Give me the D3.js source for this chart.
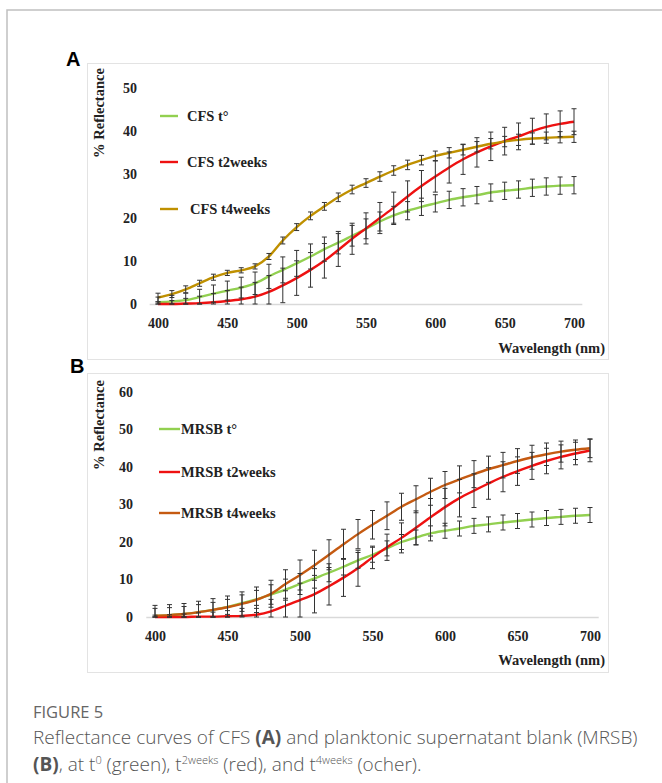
<!DOCTYPE html>
<html>
<head>
<meta charset="utf-8">
<script src="https://cdn.jsdelivr.net/npm/d3@7"></script>
<style>
  body { margin: 0; background: #fff; }
  svg { display: block; }
  .tick text { font-family: "Liberation Serif", serif; font-weight: bold; font-size: 14px; fill: #222; }
  .lbl { font-family: "Liberation Serif", serif; font-weight: bold; font-size: 14.5px; fill: #222; }
  .panel { font-family: "Liberation Sans", Arial, sans-serif; font-weight: bold; font-size: 20px; fill: #000; }
  .cap { font-family: "Open Sans", sans-serif; font-weight: 300; fill: #555; }
</style>
</head>
<body>
<svg id="fig" width="662" height="783"></svg>
<script>
// wavelengths (nm), one point every 10 nm
const wavelengths = [400,410,420,430,440,450,460,470,480,490,500,510,520,530,540,550,560,570,580,590,600,610,620,630,640,650,660,670,680,690,700];
const xTicks = [400,450,500,550,600,650,700];
const yTicksA = [0,10,20,30,40,50];
const yTicksB = [0,10,20,30,40,50,60];

// Panel A : CFS
const cfsT0  = [0.4,0.6,0.9,1.6,2.4,3.1,3.8,4.8,6.4,7.9,9.4,11.0,12.7,14.2,15.8,17.4,19.1,20.5,21.6,22.5,23.3,24.1,24.7,25.2,25.8,26.2,26.5,26.9,27.2,27.4,27.5];
const cfsT2  = [0.0,0.0,0.1,0.2,0.4,0.7,1.1,1.7,2.8,4.3,6.0,7.9,10.0,12.5,15.1,17.5,19.9,22.3,24.9,27.3,29.5,31.6,33.5,35.1,36.5,37.7,38.8,40.0,41.0,41.7,42.2];
const cfsT4  = [1.5,2.3,3.4,4.8,6.2,7.2,7.8,8.7,11.0,14.7,17.8,20.4,22.6,24.7,26.5,28.0,29.5,30.9,32.2,33.3,34.3,35.0,35.7,36.4,37.1,37.6,38.0,38.3,38.5,38.6,38.7];
const cfsErrT0 = [1.2,1.4,1.6,1.8,2.0,2.2,2.4,2.6,2.8,3.0,3.0,2.9,2.8,2.6,2.4,2.3,2.2,2.1,2.1,2.0,2.0,2.0,2.0,2.0,2.0,2.0,2.0,2.0,2.0,2.0,2.0];
const cfsErrT2 = [0.5,0.8,1.2,1.6,2.0,2.4,2.8,3.3,3.8,4.0,4.0,4.0,4.0,3.8,3.6,3.6,3.6,3.6,3.6,3.6,3.6,3.6,3.5,3.4,3.3,3.2,3.1,3.0,3.0,3.0,3.0];
const cfsErrT4 = [1.0,0.8,0.8,0.7,0.7,0.6,0.6,0.6,0.7,0.8,0.8,0.9,0.9,1.0,1.0,1.0,1.1,1.1,1.1,1.1,1.1,1.2,1.2,1.2,1.2,1.2,1.3,1.3,1.3,1.3,1.3];

// Panel B : MRSB
const mrsbT0 = [0.3,0.5,0.8,1.3,1.9,2.7,3.7,4.7,6.0,7.3,8.8,10.3,11.8,13.4,15.1,16.6,18.3,20.0,21.2,22.3,23.0,23.6,24.3,24.7,25.2,25.6,26.0,26.4,26.7,27.0,27.2];
const mrsbT2 = [0.0,0.0,0.0,0.1,0.1,0.2,0.3,0.6,1.5,3.0,4.5,6.1,8.2,10.5,13.0,15.9,18.6,21.1,23.8,26.6,29.3,31.7,33.7,35.6,37.4,38.9,40.3,41.6,42.7,43.6,44.4];
const mrsbT4 = [0.3,0.5,0.8,1.3,1.9,2.6,3.5,4.6,6.2,8.8,11.2,13.8,16.6,19.4,22.1,24.6,27.0,29.4,31.4,33.4,35.2,36.7,38.1,39.4,40.5,41.6,42.6,43.4,44.1,44.6,45.0];
const mrsbErrT0 = [2.0,2.0,2.0,2.0,2.0,2.0,2.2,2.4,2.6,2.8,2.8,2.6,2.4,2.2,2.1,2.0,2.0,2.0,2.0,2.0,2.0,2.0,2.0,2.0,2.0,2.0,2.0,2.0,2.0,2.0,2.0];
const mrsbErrT2 = [0.5,0.6,0.8,1.0,1.2,1.5,2.0,2.5,3.2,4.0,4.5,5.0,5.0,5.0,4.8,3.0,3.5,4.0,4.5,5.0,5.0,5.0,4.5,4.2,4.0,3.8,3.6,3.4,3.2,3.0,3.0];
const mrsbErrT4 = [2.8,2.8,2.8,2.9,3.0,3.0,3.2,3.4,3.6,3.8,4.0,4.0,4.0,4.0,3.9,3.8,3.7,3.6,3.6,3.6,3.6,3.6,3.6,3.5,3.4,3.3,3.2,3.0,2.8,2.6,2.5];

const green = "#92d050", red = "#ee1111", ocher = "#bf9000", orange = "#c55a11";

const svg = d3.select("#fig");

// outer figure frame (top and left rules)
svg.append("path").attr("d", "M7,783 V10 H662").attr("fill", "none").attr("stroke", "#c0c0c0").attr("stroke-width", 1.5);

/*
  Draws one reflectance panel
*/
function drawPanel(opt) {
  const g = svg.append("g");

  // light chart frame
  g.append("rect")
    .attr("x", opt.box[0] + 0.5).attr("y", opt.box[1] + 0.5)
    .attr("width", opt.box[2]).attr("height", opt.box[3])
    .attr("fill", "none").attr("stroke", "#e3e3e3");

  svg.append("text").attr("class", "panel")
    .attr("x", opt.letter[0]).attr("y", opt.letter[1]).text(opt.name);

  const x = d3.scaleLinear().domain([400, 700]).range(opt.xr);
  const y = d3.scaleLinear().domain([0, opt.ymax]).range(opt.yr);

  // baseline
  g.append("line")
    .attr("x1", x(394)).attr("x2", x(706))
    .attr("y1", y(0) + 0.5).attr("y2", y(0) + 0.5)
    .attr("stroke", "#d9d9d9").attr("stroke-width", 1.5);

  // x axis
  g.append("g")
    .attr("transform", "translate(0," + opt.xAxisY + ")")
    .call(d3.axisBottom(x).tickValues(xTicks).tickSize(0).tickPadding(0))
    .call(a => a.select(".domain").remove());

  // y axis
  g.append("g")
    .attr("transform", "translate(" + opt.yAxisX + ",0)")
    .call(d3.axisLeft(y).tickValues(opt.yTicks).tickSize(0).tickPadding(0))
    .call(a => a.select(".domain").remove());

  g.append("text").attr("class", "lbl")
    .attr("text-anchor", "end")
    .attr("x", 605).attr("y", opt.wlY)
    .text("Wavelength (nm)");

  g.append("text").attr("class", "lbl")
    .attr("text-anchor", "middle")
    .attr("transform", "translate(" + opt.yTitle[0] + "," + opt.yTitle[1] + ") rotate(-90)")
    .attr("dy", "0.35em")
    .text("% Reflectance");

  const line = d3.line()
    .x((d, i) => x(wavelengths[i]))
    .y(d => y(d))
    .curve(d3.curveMonotoneX);

  opt.series.forEach(s => {
    g.append("path")
      .datum(s.values)
      .attr("fill", "none")
      .attr("stroke", s.color)
      .attr("stroke-width", 2.4)
      .attr("d", line);
  });

  // error bars on top of the lines
  opt.series.forEach(s => {
    const eb = g.append("g").attr("stroke", "#333").attr("stroke-width", 1);
    s.values.forEach((v, i) => {
      const cx = x(wavelengths[i]);
      const lo = y(Math.max(0, v - s.err[i])), hi = y(v + s.err[i]);
      eb.append("line").attr("x1", cx).attr("x2", cx).attr("y1", lo).attr("y2", hi);
      eb.append("line").attr("x1", cx - 2.5).attr("x2", cx + 2.5).attr("y1", lo).attr("y2", lo);
      eb.append("line").attr("x1", cx - 2.5).attr("x2", cx + 2.5).attr("y1", hi).attr("y2", hi);
    });
  });

  // legend
  opt.series.forEach((s, i) => {
    const ly = opt.legendY[i];
    g.append("line")
      .attr("x1", opt.legendX[0]).attr("x2", opt.legendX[1])
      .attr("y1", ly).attr("y2", ly)
      .attr("stroke", s.color).attr("stroke-width", 2.4);
    g.append("text").attr("class", "lbl")
      .attr("x", opt.legendX[2] + (s.shift || 0)).attr("y", ly).attr("dy", "0.35em")
      .text(s.label);
  });
}

drawPanel({
  name: "A", letter: [66, 66],
  box: [87, 63, 521, 296],
  xr: [158, 574], yr: [304, 88], ymax: 50, yTicks: yTicksA,
  xAxisY: 318, yAxisX: 137, wlY: 353, yTitle: [99, 113],
  legendX: [160, 178, 187], legendY: [116, 162, 209],
  series: [
    {label: "CFS t°", values: cfsT0, err: cfsErrT0, color: green},
    {label: "CFS t2weeks", values: cfsT2, err: cfsErrT2, color: red},
    {label: "CFS t4weeks", values: cfsT4, err: cfsErrT4, color: ocher, shift: 3}
  ]
});

drawPanel({
  name: "B", letter: [70, 373],
  box: [87, 373, 521, 299],
  xr: [155, 590], yr: [617, 392], ymax: 60, yTicks: yTicksB,
  xAxisY: 631, yAxisX: 133, wlY: 665, yTitle: [99, 425],
  legendX: [159, 180, 181], legendY: [429, 472, 513],
  series: [
    {label: "MRSB t°", values: mrsbT0, err: mrsbErrT0, color: green},
    {label: "MRSB t2weeks", values: mrsbT2, err: mrsbErrT2, color: red},
    {label: "MRSB t4weeks", values: mrsbT4, err: mrsbErrT4, color: orange}
  ]
});

// caption
svg.append("text").attr("class", "cap")
  .attr("x", 33).attr("y", 718)
  .style("font-size", "16.5px").style("font-weight", 400).style("fill", "#666")
  .text("FIGURE 5");

const c1 = svg.append("text").attr("class", "cap").attr("x", 33).attr("y", 744).style("font-size", "19px");
c1.append("tspan").text("Reflectance curves of CFS ");
c1.append("tspan").style("font-weight", 700).text("(A)");
c1.append("tspan").text(" and planktonic supernatant blank (MRSB)");

const c2 = svg.append("text").attr("class", "cap").attr("x", 33).attr("y", 771).style("font-size", "19px");
c2.append("tspan").style("font-weight", 700).text("(B)");
c2.append("tspan").text(", at t");
c2.append("tspan").attr("dy", -7).style("font-size", "11px").text("0");
c2.append("tspan").attr("dy", 7).text(" (green), t");
c2.append("tspan").attr("dy", -7).style("font-size", "11px").text("2weeks");
c2.append("tspan").attr("dy", 7).text(" (red), and t");
c2.append("tspan").attr("dy", -7).style("font-size", "11px").text("4weeks");
c2.append("tspan").attr("dy", 7).text(" (ocher).");
</script>
</body>
</html>
